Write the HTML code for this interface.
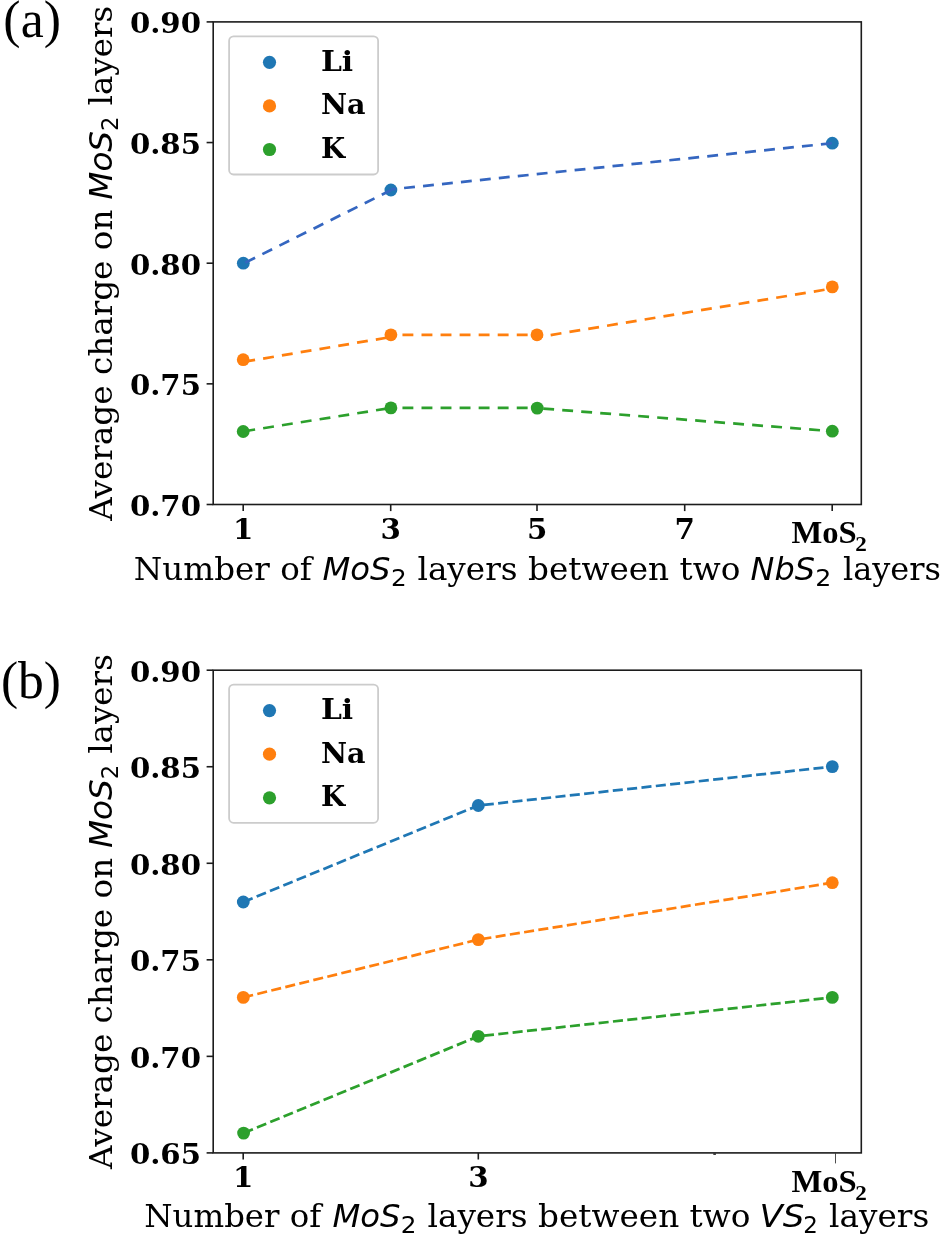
<!DOCTYPE html>
<html lang="en">
<head>
<meta charset="utf-8">
<title>Average charge on MoS2 layers</title>
<style>
html,body{margin:0;padding:0;background:#fff;}
body{width:944px;height:1242px;overflow:hidden;}
svg{display:block;filter:blur(0.45px);}
text{fill:#000;}
</style>
</head>
<body>
<svg width="944" height="1242" viewBox="0 0 944 1242">
<rect x="0" y="0" width="944" height="1242" fill="#ffffff"/>
<g id="panel-a">
<circle cx="243.3" cy="263.2" r="6.4" fill="#1f77b4"/>
<circle cx="390.9" cy="190" r="6.4" fill="#1f77b4"/>
<circle cx="832.3" cy="143.2" r="6.4" fill="#1f77b4"/>
<line x1="243.3" y1="263.6" x2="390.9" y2="190.2" stroke="#3566c0" stroke-width="2.72" stroke-dasharray="10.9 8.15" stroke-dashoffset="16.8"/>
<line x1="390.9" y1="189.4" x2="832.3" y2="143.2" stroke="#3566c0" stroke-width="2.72" stroke-dasharray="10.9 8.15" stroke-dashoffset="5.8"/>
<circle cx="243.2" cy="359.7" r="6.4" fill="#ff7f0e"/>
<circle cx="390.9" cy="334.8" r="6.4" fill="#ff7f0e"/>
<circle cx="537" cy="334.8" r="6.4" fill="#ff7f0e"/>
<circle cx="832.3" cy="286.9" r="6.4" fill="#ff7f0e"/>
<line x1="243.2" y1="361.9" x2="390.9" y2="337" stroke="#ff7f0e" stroke-width="2.72" stroke-dasharray="10.9 8.15" stroke-dashoffset="17.9"/>
<line x1="390.9" y1="334.8" x2="537" y2="334.8" stroke="#ff7f0e" stroke-width="2.72" stroke-dasharray="10.9 8.15" stroke-dashoffset="7.5"/>
<line x1="537" y1="337.3" x2="832.3" y2="288.5" stroke="#ff7f0e" stroke-width="2.72" stroke-dasharray="10.9 8.15" stroke-dashoffset="5.2"/>
<circle cx="243.2" cy="431.5" r="6.4" fill="#2ca02c"/>
<circle cx="390.9" cy="407.9" r="6.4" fill="#2ca02c"/>
<circle cx="537.2" cy="408.1" r="6.4" fill="#2ca02c"/>
<circle cx="832.3" cy="431.2" r="6.4" fill="#2ca02c"/>
<line x1="243.2" y1="431.4" x2="390.9" y2="407.9" stroke="#2ca02c" stroke-width="2.72" stroke-dasharray="10.9 8.15" stroke-dashoffset="17.9"/>
<line x1="390.9" y1="407.95" x2="537.2" y2="407.95" stroke="#2ca02c" stroke-width="2.72" stroke-dasharray="10.9 8.15" stroke-dashoffset="7.5"/>
<line x1="537.2" y1="408.1" x2="832.3" y2="431.2" stroke="#2ca02c" stroke-width="2.72" stroke-dasharray="10.9 8.15" stroke-dashoffset="13"/>
<rect x="213.2" y="21.9" width="648.1" height="482.6" fill="none" stroke="#1c1c1c" stroke-width="1.6"/>
<line x1="206.6" y1="504.5" x2="213.2" y2="504.5" stroke="#1c1c1c" stroke-width="1.6"/>
<text transform="translate(129.91 515.8) scale(1.0657 1)" font-family="'DejaVu Serif', 'Liberation Serif', serif" font-weight="bold" font-size="27.4">0.70</text>
<line x1="206.6" y1="383.85" x2="213.2" y2="383.85" stroke="#1c1c1c" stroke-width="1.6"/>
<text transform="translate(129.91 395.15) scale(1.0657 1)" font-family="'DejaVu Serif', 'Liberation Serif', serif" font-weight="bold" font-size="27.4">0.75</text>
<line x1="206.6" y1="263.2" x2="213.2" y2="263.2" stroke="#1c1c1c" stroke-width="1.6"/>
<text transform="translate(129.91 274.5) scale(1.0657 1)" font-family="'DejaVu Serif', 'Liberation Serif', serif" font-weight="bold" font-size="27.4">0.80</text>
<line x1="206.6" y1="142.55" x2="213.2" y2="142.55" stroke="#1c1c1c" stroke-width="1.6"/>
<text transform="translate(129.91 153.85) scale(1.0657 1)" font-family="'DejaVu Serif', 'Liberation Serif', serif" font-weight="bold" font-size="27.4">0.85</text>
<line x1="206.6" y1="21.9" x2="213.2" y2="21.9" stroke="#1c1c1c" stroke-width="1.6"/>
<text transform="translate(129.91 33.2) scale(1.0657 1)" font-family="'DejaVu Serif', 'Liberation Serif', serif" font-weight="bold" font-size="27.4">0.90</text>
<line x1="243.2" y1="504.5" x2="243.2" y2="511.1" stroke="#1c1c1c" stroke-width="1.6"/>
<text transform="translate(243.3 538.5) scale(1.0700 1)" text-anchor="middle" font-family="'DejaVu Serif', 'Liberation Serif', serif" font-weight="bold" font-size="27.4">1</text>
<line x1="390.7" y1="504.5" x2="390.7" y2="511.1" stroke="#1c1c1c" stroke-width="1.6"/>
<text transform="translate(390.8 538.5) scale(1.0700 1)" text-anchor="middle" font-family="'DejaVu Serif', 'Liberation Serif', serif" font-weight="bold" font-size="27.4">3</text>
<line x1="537" y1="504.5" x2="537" y2="511.1" stroke="#1c1c1c" stroke-width="1.6"/>
<text transform="translate(537.1 538.5) scale(1.0700 1)" text-anchor="middle" font-family="'DejaVu Serif', 'Liberation Serif', serif" font-weight="bold" font-size="27.4">5</text>
<line x1="684.7" y1="504.5" x2="684.7" y2="511.1" stroke="#1c1c1c" stroke-width="1.6"/>
<text transform="translate(684.8 538.5) scale(1.0700 1)" text-anchor="middle" font-family="'DejaVu Serif', 'Liberation Serif', serif" font-weight="bold" font-size="27.4">7</text>
<line x1="832.2" y1="504.5" x2="832.2" y2="511.1" stroke="#1c1c1c" stroke-width="1.6"/>
<text transform="translate(791.53 542.7) scale(1.0197 1)" font-family="'Liberation Serif', 'DejaVu Serif', serif" font-weight="bold" font-size="32">MoS</text>
<text transform="translate(855.32 551) scale(1.1566 1)" font-family="'Liberation Serif', 'DejaVu Serif', serif" font-weight="bold" font-size="20">2</text>
<rect x="229.1" y="36.3" width="149" height="138.2" rx="4.5" ry="4.5" fill="#ffffff" fill-opacity="0.8" stroke="#cccccc" stroke-width="1.8"/>
<circle cx="269.5" cy="62.3" r="6.6" fill="#1f77b4"/>
<text transform="translate(320.88 70.7) scale(1.0877 1)" font-family="'DejaVu Serif', 'Liberation Serif', serif" font-weight="bold" font-size="27.4">Li</text>
<circle cx="269.5" cy="105.9" r="6.6" fill="#ff7f0e"/>
<text transform="translate(321.01 114.2) scale(1.0424 1)" font-family="'DejaVu Serif', 'Liberation Serif', serif" font-weight="bold" font-size="27.4">Na</text>
<circle cx="269.5" cy="149.5" r="6.6" fill="#2ca02c"/>
<text transform="translate(320.98 157.7) scale(1.0146 1)" font-family="'DejaVu Serif', 'Liberation Serif', serif" font-weight="bold" font-size="27.4">K</text>
<text transform="translate(112 520.74) rotate(-90) scale(1.0429 1)" font-family="'DejaVu Serif', 'Liberation Serif', serif" font-size="31.3">Average charge on</text>
<text transform="translate(112 199.8) rotate(-90) scale(1.0213 1)" font-family="'DejaVu Sans', 'Liberation Sans', sans-serif" font-style="oblique" font-size="32">MoS</text>
<text transform="translate(117.8 130.95) rotate(-90) scale(1.0135 1)" font-family="'DejaVu Sans', 'Liberation Sans', sans-serif" font-size="22.4">2</text>
<text transform="translate(112 105.48) rotate(-90) scale(1.0391 1)" font-family="'DejaVu Serif', 'Liberation Serif', serif" font-size="31.3">layers</text>
<text transform="translate(133.87 580.3) scale(1.0400 1)" font-family="'DejaVu Serif', 'Liberation Serif', serif" font-size="31.3">Number of</text>
<text transform="translate(322.41 580.3) scale(1.0076 1)" font-family="'DejaVu Sans', 'Liberation Sans', sans-serif" font-style="oblique" font-size="32">MoS</text>
<text transform="translate(391.01 585.9) scale(1.1004 1)" font-family="'DejaVu Sans', 'Liberation Sans', sans-serif" font-size="22.4">2</text>
<text transform="translate(417.42 580.3) scale(1.0448 1)" font-family="'DejaVu Serif', 'Liberation Serif', serif" font-size="31.3">layers between two</text>
<text transform="translate(750.62 580.3) scale(0.9978 1)" font-family="'DejaVu Sans', 'Liberation Sans', sans-serif" font-style="oblique" font-size="32">NbS</text>
<text transform="translate(815.37 585.9) scale(1.1293 1)" font-family="'DejaVu Sans', 'Liberation Sans', sans-serif" font-size="22.4">2</text>
<text transform="translate(842.94 580.3) scale(1.0219 1)" font-family="'DejaVu Serif', 'Liberation Serif', serif" font-size="31.3">layers</text>
<text transform="translate(3.37 37.1) scale(0.9873 1)" font-family="'Liberation Serif', 'DejaVu Serif', serif" font-size="52.5">(a)</text>
</g>
<g id="panel-b">
<circle cx="243.3" cy="902" r="6.4" fill="#1f77b4"/>
<circle cx="478.3" cy="805.5" r="6.4" fill="#1f77b4"/>
<circle cx="832.3" cy="766.6" r="6.4" fill="#1f77b4"/>
<polyline points="243.3,902 478.3,805.5 832.3,766.6" fill="none" stroke="#1f77b4" stroke-width="2.72" stroke-dasharray="10.07 4.35" stroke-dashoffset="0"/>
<circle cx="243.3" cy="997.4" r="6.4" fill="#ff7f0e"/>
<circle cx="478.3" cy="939.6" r="6.4" fill="#ff7f0e"/>
<circle cx="832.3" cy="882.7" r="6.4" fill="#ff7f0e"/>
<polyline points="243.3,997.4 478.3,939.6 832.3,882.7" fill="none" stroke="#ff7f0e" stroke-width="2.72" stroke-dasharray="10.07 4.35" stroke-dashoffset="0"/>
<circle cx="243.6" cy="1133.1" r="6.4" fill="#2ca02c"/>
<circle cx="478.3" cy="1036.3" r="6.4" fill="#2ca02c"/>
<circle cx="832.3" cy="997.4" r="6.4" fill="#2ca02c"/>
<polyline points="243.6,1133.1 478.3,1036.3 832.3,997.4" fill="none" stroke="#2ca02c" stroke-width="2.72" stroke-dasharray="10.07 4.35" stroke-dashoffset="0"/>
<rect x="213.2" y="670.2" width="648.1" height="482.7" fill="none" stroke="#1c1c1c" stroke-width="1.6"/>
<line x1="206.6" y1="1152.9" x2="213.2" y2="1152.9" stroke="#1c1c1c" stroke-width="1.6"/>
<text transform="translate(129.91 1164.2) scale(1.0657 1)" font-family="'DejaVu Serif', 'Liberation Serif', serif" font-weight="bold" font-size="27.4">0.65</text>
<line x1="206.6" y1="1056.36" x2="213.2" y2="1056.36" stroke="#1c1c1c" stroke-width="1.6"/>
<text transform="translate(129.91 1067.66) scale(1.0657 1)" font-family="'DejaVu Serif', 'Liberation Serif', serif" font-weight="bold" font-size="27.4">0.70</text>
<line x1="206.6" y1="959.82" x2="213.2" y2="959.82" stroke="#1c1c1c" stroke-width="1.6"/>
<text transform="translate(129.91 971.12) scale(1.0657 1)" font-family="'DejaVu Serif', 'Liberation Serif', serif" font-weight="bold" font-size="27.4">0.75</text>
<line x1="206.6" y1="863.28" x2="213.2" y2="863.28" stroke="#1c1c1c" stroke-width="1.6"/>
<text transform="translate(129.91 874.58) scale(1.0657 1)" font-family="'DejaVu Serif', 'Liberation Serif', serif" font-weight="bold" font-size="27.4">0.80</text>
<line x1="206.6" y1="766.74" x2="213.2" y2="766.74" stroke="#1c1c1c" stroke-width="1.6"/>
<text transform="translate(129.91 778.04) scale(1.0657 1)" font-family="'DejaVu Serif', 'Liberation Serif', serif" font-weight="bold" font-size="27.4">0.85</text>
<line x1="206.6" y1="670.2" x2="213.2" y2="670.2" stroke="#1c1c1c" stroke-width="1.6"/>
<text transform="translate(129.91 681.5) scale(1.0657 1)" font-family="'DejaVu Serif', 'Liberation Serif', serif" font-weight="bold" font-size="27.4">0.90</text>
<line x1="243.2" y1="1152.9" x2="243.2" y2="1159.5" stroke="#1c1c1c" stroke-width="1.6"/>
<text transform="translate(243.3 1187.2) scale(1.0700 1)" text-anchor="middle" font-family="'DejaVu Serif', 'Liberation Serif', serif" font-weight="bold" font-size="27.4">1</text>
<line x1="478.3" y1="1152.9" x2="478.3" y2="1159.5" stroke="#1c1c1c" stroke-width="1.6"/>
<text transform="translate(478.4 1187.2) scale(1.0700 1)" text-anchor="middle" font-family="'DejaVu Serif', 'Liberation Serif', serif" font-weight="bold" font-size="27.4">3</text>
<line x1="835.5" y1="1152.9" x2="835.5" y2="1163.4" stroke="#3a3a3a" stroke-width="0.9"/>
<text transform="translate(791.53 1191.5) scale(1.0197 1)" font-family="'Liberation Serif', 'DejaVu Serif', serif" font-weight="bold" font-size="32">MoS</text>
<text transform="translate(855.32 1199.8) scale(1.1566 1)" font-family="'Liberation Serif', 'DejaVu Serif', serif" font-weight="bold" font-size="20">2</text>
<rect x="713.3" y="1153.5" width="2.6" height="1.3" fill="#111"/>
<rect x="229.1" y="684.6" width="149" height="138.2" rx="4.5" ry="4.5" fill="#ffffff" fill-opacity="0.8" stroke="#cccccc" stroke-width="1.8"/>
<circle cx="269.5" cy="710.6" r="6.6" fill="#1f77b4"/>
<text transform="translate(320.88 719) scale(1.0877 1)" font-family="'DejaVu Serif', 'Liberation Serif', serif" font-weight="bold" font-size="27.4">Li</text>
<circle cx="269.5" cy="754.2" r="6.6" fill="#ff7f0e"/>
<text transform="translate(321.01 762.5) scale(1.0424 1)" font-family="'DejaVu Serif', 'Liberation Serif', serif" font-weight="bold" font-size="27.4">Na</text>
<circle cx="269.5" cy="797.8" r="6.6" fill="#2ca02c"/>
<text transform="translate(320.98 806) scale(1.0146 1)" font-family="'DejaVu Serif', 'Liberation Serif', serif" font-weight="bold" font-size="27.4">K</text>
<text transform="translate(112 1169.04) rotate(-90) scale(1.0429 1)" font-family="'DejaVu Serif', 'Liberation Serif', serif" font-size="31.3">Average charge on</text>
<text transform="translate(112 848.1) rotate(-90) scale(1.0213 1)" font-family="'DejaVu Sans', 'Liberation Sans', sans-serif" font-style="oblique" font-size="32">MoS</text>
<text transform="translate(117.8 779.25) rotate(-90) scale(1.0135 1)" font-family="'DejaVu Sans', 'Liberation Sans', sans-serif" font-size="22.4">2</text>
<text transform="translate(112 753.78) rotate(-90) scale(1.0391 1)" font-family="'DejaVu Serif', 'Liberation Serif', serif" font-size="31.3">layers</text>
<text transform="translate(144.28 1227.3) scale(1.0347 1)" font-family="'DejaVu Serif', 'Liberation Serif', serif" font-size="31.3">Number of</text>
<text transform="translate(332.51 1227.3) scale(1.0076 1)" font-family="'DejaVu Sans', 'Liberation Sans', sans-serif" font-style="oblique" font-size="32">MoS</text>
<text transform="translate(400.81 1232.9) scale(1.1004 1)" font-family="'DejaVu Sans', 'Liberation Sans', sans-serif" font-size="22.4">2</text>
<text transform="translate(427.42 1227.3) scale(1.0455 1)" font-family="'DejaVu Serif', 'Liberation Serif', serif" font-size="31.3">layers between two</text>
<text transform="translate(759.56 1227.3) scale(1.0640 1)" font-family="'DejaVu Sans', 'Liberation Sans', sans-serif" font-style="oblique" font-size="32">VS</text>
<text transform="translate(803.14 1232.9) scale(1.0232 1)" font-family="'DejaVu Sans', 'Liberation Sans', sans-serif" font-size="22.4">2</text>
<text transform="translate(829.02 1227.3) scale(1.0444 1)" font-family="'DejaVu Serif', 'Liberation Serif', serif" font-size="31.3">layers</text>
<text transform="translate(0.88 697.6) scale(0.9811 1)" font-family="'Liberation Serif', 'DejaVu Serif', serif" font-size="52.5">(b)</text>
</g>
</svg>
</body>
</html>
